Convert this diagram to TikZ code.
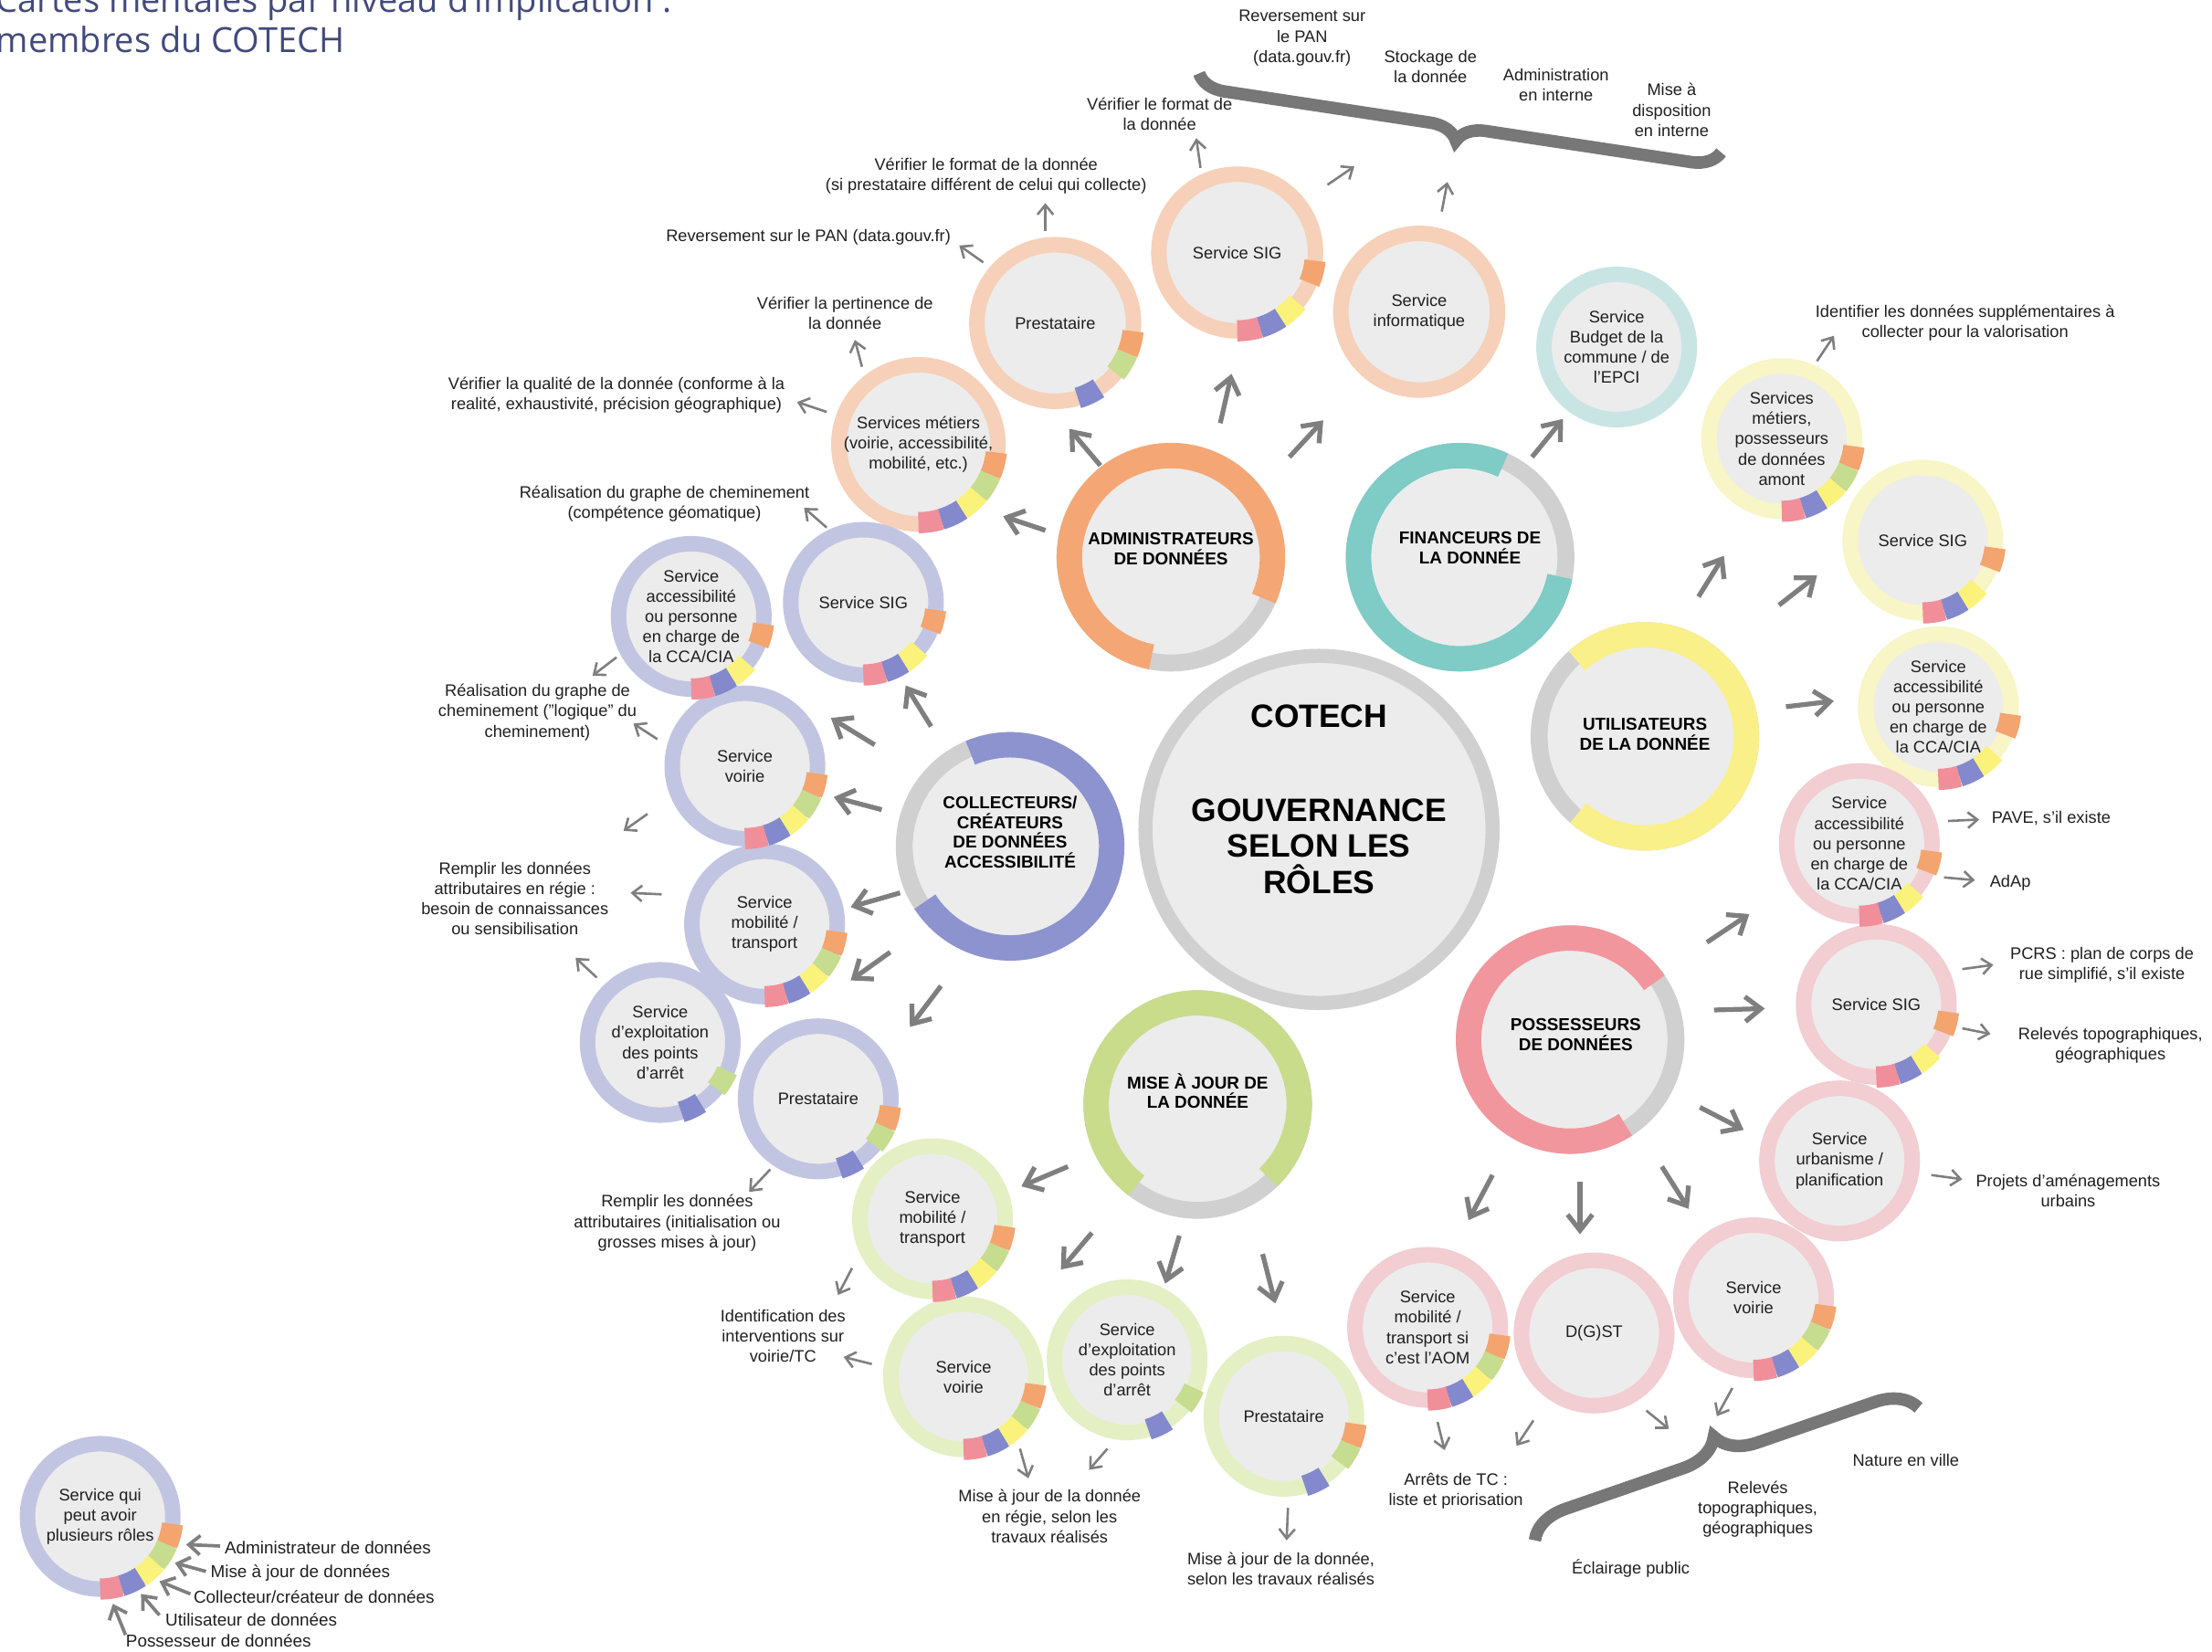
\documentclass[tikz,border=0pt]{standalone}
\usepackage{fontspec}
\setmainfont{Liberation Sans}
\newfontfamily\titlefont{Open Sans}
\usepackage{xcolor}
\usepackage{tikz}
\usetikzlibrary{arrows.meta,decorations.pathreplacing}

\definecolor{innergrey}{HTML}{ECECEC}
\definecolor{ringgrey}{HTML}{D0D0D0}
\definecolor{arrowgrey}{HTML}{7F7F7F}
\definecolor{bracegrey}{HTML}{777777}
\definecolor{titleblue}{HTML}{434A7C}
\definecolor{textdark}{HTML}{1F1F1F}
\definecolor{admorange}{HTML}{F4A774}
\definecolor{finteal}{HTML}{7FCBC6}
\definecolor{colblue}{HTML}{8C93CF}
\definecolor{utiyellow}{HTML}{FAF08A}
\definecolor{pospink}{HTML}{F2969E}
\definecolor{majgreen}{HTML}{C8DC8C}
\definecolor{ringpeach}{HTML}{F6D0B8}
\definecolor{ringteal}{HTML}{C8E5E4}
\definecolor{ringlav}{HTML}{C2C5E2}
\definecolor{ringyellow}{HTML}{F8F5C6}
\definecolor{ringgreen}{HTML}{E4EFC3}
\definecolor{ringpink}{HTML}{F2CDD2}
\definecolor{seg1}{HTML}{F3A46F}
\definecolor{seg2}{HTML}{C6DC8E}
\definecolor{seg3}{HTML}{FBF27B}
\definecolor{seg4}{HTML}{8389CC}
\definecolor{seg5}{HTML}{F08F99}

\begin{document}
\begin{tikzpicture}[
    x=0.025cm, y=0.025cm,
    svc/.style={circle, draw=#1, line width=0.275cm, fill=innergrey, minimum size=2.575cm, inner sep=0pt, align=center, text=textdark, font=\fontsize{8.4}{10.2}\selectfont},
    bigsvc/.style={svc=#1, minimum size=2.775cm},
    rolecircle/.style={circle, draw=ringgrey, line width=0.3cm, fill=innergrey, minimum size=3.75cm, inner sep=0pt},
    roletext/.style={align=center, text=black, font=\bfseries\fontsize{8.7}{10}\selectfont},
    rolearc/.style={draw=#1, line width=0.45cm},
    roleseg/.style={line width=0.375cm},
    note/.style={align=center, inner sep=0pt, text=textdark, font=\fontsize{8.4}{10.2}\selectfont},
    legnote/.style={anchor=west, inner sep=0pt, text=textdark, font=\fontsize{8.7}{10.4}\selectfont},
    titlenote/.style={anchor=base west, inner sep=0pt, text=titleblue, font=\titlefont\fontsize{17.5}{20}\selectfont},
    bigarrow/.style={draw=arrowgrey, line width=0.085cm, -{Straight Barb[length=0.28cm, width=0.44cm]}},
    smallarrow/.style={draw=arrowgrey, line width=0.042cm, -{Straight Barb[length=0.17cm, width=0.28cm]}},
    legarrow/.style={draw=arrowgrey, line width=0.06cm, -{Straight Barb[length=0.2cm, width=0.34cm]}},
    bigbrace/.style={draw=bracegrey, line width=0.22cm, decorate, decoration={brace, amplitude=#1}}
  ]

  \useasboundingbox (0,0) rectangle (1568,-1171);
  \clip (0,0) rectangle (1568,-1171);

  % Title
  \node[titlenote] (title1) at (-3,-9) {Cartes mentales par niveau d’implication :};
  \node[titlenote] (title2) at (-3,-37) {membres du COTECH};

  % Braces
  \coordinate (tbA) at (1220,-108);
  \coordinate (tbB) at (850,-52);
  \coordinate (tbtip) at (1036,-100);
  \draw[bigbrace=0.5cm] (tbA) -- (tbB);
  \coordinate (bbA) at (1088,-1092);
  \coordinate (bbB) at (1360,-998);
  \coordinate (bbtip) at (1217,-1017);
  \draw[bigbrace=0.7cm] (bbA) -- (bbB);

  % Centre
  \node[circle, draw=ringgrey, line width=0.25cm, fill=innergrey, minimum size=6.15cm, inner sep=0pt,
        label={[roletext, font=\bfseries\fontsize{16.3}{18.1}\selectfont, yshift=0.54cm]center:{COTECH\\[29.5pt]GOUVERNANCE\\SELON LES\\RÔLES}}] (cot) at (935,-588) {};

  % Roles
  \node[rolecircle, label={[roletext, yshift=0.15cm]center:{ADMINISTRATEURS\\DE DONNÉES}}] (adm) at (830,-395) {};
  \node[rolecircle, label={[roletext, xshift=0.175cm, yshift=0.16cm]center:{FINANCEURS DE\\LA DONNÉE}}] (fin) at (1035,-395) {};
  \node[rolecircle, label={[roletext, yshift=0.25cm]center:{COLLECTEURS/\\CRÉATEURS\\DE DONNÉES\\ACCESSIBILITÉ}}] (col) at (716,-600) {};
  \node[rolecircle, label={[roletext, yshift=0.04cm]center:{UTILISATEURS\\DE LA DONNÉE}}] (uti) at (1166,-522) {};
  \node[rolecircle, label={[roletext, xshift=0.1cm, yshift=0.09cm]center:{POSSESSEURS\\DE DONNÉES}}] (pos) at (1113,-737) {};
  \node[rolecircle, label={[roletext, yshift=0.24cm]center:{MISE À JOUR DE\\LA DONNÉE}}] (maj) at (849,-783) {};

  \draw[rolearc=admorange] ([shift={(-24:72)}]adm.center) arc[start angle=-24, end angle=259, radius=72];
  \draw[rolearc=finteal] ([shift={(65:72)}]fin.center) arc[start angle=65, end angle=349, radius=72];
  \draw[rolearc=colblue] ([shift={(-147:72)}]col.center) arc[start angle=-147, end angle=113, radius=72];
  \draw[rolearc=utiyellow] ([shift={(-131:72)}]uti.center) arc[start angle=-131, end angle=132, radius=72];
  \draw[rolearc=pospink] ([shift={(34:72)}]pos.center) arc[start angle=34, end angle=303, radius=72];
  \draw[rolearc=majgreen] ([shift={(-46:72)}]maj.center) arc[start angle=-46, end angle=233, radius=72];

  % Administrateurs
  \node[bigsvc=ringpeach] (pre1) at (748,-229) {Prestataire};
  \node[bigsvc=ringpeach] (sig1) at (877,-179) {Service SIG};
  \node[bigsvc=ringpeach] (inf) at (1006,-221) {Service\\informatique};
  \node[bigsvc=ringpeach] (met1) at (651,-315) {Services métiers\\(voirie, accessibilité,\\mobilité, etc.)};
  % Financeurs
  \node[svc=ringteal] (bud) at (1146,-246) {Service\\Budget de la\\commune / de\\l’EPCI};
  % Utilisateurs
  \node[svc=ringyellow] (met2) at (1263,-311) {Services\\métiers,\\possesseurs\\de données\\amont};
  \node[svc=ringyellow] (sig2) at (1363,-383) {Service SIG};
  \node[svc=ringyellow] (acc2) at (1374,-501) {Service\\accessibilité\\ou personne\\en charge de\\la CCA/CIA};
  % Collecteurs
  \node[svc=ringlav] (sig3) at (612,-427) {Service SIG};
  \node[svc=ringlav] (acc3) at (490,-437) {Service\\accessibilité\\ou personne\\en charge de\\la CCA/CIA};
  \node[svc=ringlav] (voi3) at (528,-543) {Service\\voirie};
  \node[svc=ringlav] (mob3) at (542,-655) {Service\\mobilité /\\transport};
  \node[svc=ringlav] (exp3) at (468,-739) {Service\\d’exploitation\\des points\\d’arrêt};
  \node[svc=ringlav] (pre3) at (580,-779) {Prestataire};
  % Mise a jour
  \node[svc=ringgreen] (mob4) at (661,-864) {Service\\mobilité /\\transport};
  \node[svc=ringgreen] (voi4) at (683,-976) {Service\\voirie};
  \node[svc=ringgreen] (exp4) at (799,-964) {Service\\d’exploitation\\des points\\d’arrêt};
  \node[svc=ringgreen] (pre4) at (910,-1004) {Prestataire};
  % Possesseurs
  \node[svc=ringpink] (acc5) at (1318,-598) {Service\\accessibilité\\ou personne\\en charge de\\la CCA/CIA};
  \node[svc=ringpink] (sig5) at (1330,-712) {Service SIG};
  \node[svc=ringpink] (urb) at (1304,-823) {Service\\urbanisme /\\planification};
  \node[svc=ringpink] (voi5) at (1243,-920) {Service\\voirie};
  \node[svc=ringpink] (dgst) at (1130,-945) {D(G)ST};
  \node[svc=ringpink] (mob5) at (1012,-941) {Service\\mobilité /\\transport si\\c’est l’AOM};
  % Legende
  \node[svc=ringlav] (leg) at (71,-1075) {Service qui\\peut avoir\\plusieurs rôles};

  % Role segments
  \foreach \nd/\rad/\roles in {pre1/55.5/{1,2,4}, sig1/55.5/{1,3,4,5}, met1/55.5/{1,2,3,4,5},
      met2/51.5/{1,2,3,4,5}, sig2/51.5/{1,3,4,5}, acc2/51.5/{1,3,4,5},
      sig3/51.5/{1,3,4,5}, acc3/51.5/{1,3,4,5}, voi3/51.5/{1,2,3,4,5}, mob3/51.5/{1,2,3,4,5},
      exp3/51.5/{2,4}, pre3/51.5/{1,2,4},
      mob4/51.5/{1,2,3,4,5}, voi4/51.5/{1,2,3,4,5}, exp4/51.5/{2,4}, pre4/51.5/{1,2,4},
      acc5/51.5/{1,3,4,5}, sig5/51.5/{1,3,4,5}, voi5/51.5/{1,2,3,4,5}, mob5/51.5/{1,2,3,4,5},
      leg/51.5/{1,2,3,4,5}}
    \foreach \k in \roles
      \draw[roleseg, draw=seg\k] ([shift={({-6-(\k-1)*16.8}:\rad)}]\nd.center)
        arc[start angle={-6-(\k-1)*16.8}, delta angle=-16.8, radius=\rad];

  % Labels
  \node[note] (lrev) at (923,-27) {Reversement sur\\le PAN\\(data.gouv.fr)};
  \node[note] (lsto) at (1014,-47) {Stockage de\\la donnée};
  \node[note] (ladmi) at (1103,-60) {Administration\\en interne};
  \node[note] (lmise) at (1185,-78) {Mise à\\disposition\\en interne};
  \node[note] (lfmt1) at (822,-81) {Vérifier le format de\\la donnée};
  \node[note] (lfmt2) at (699,-125) {Vérifier le format de la donnée\\(si prestataire différent de celui qui collecte)};
  \node[note] (lpan) at (573,-168) {Reversement sur le PAN (data.gouv.fr)};
  \node[note] (lpert) at (599,-222) {Vérifier la pertinence de\\la donnée};
  \node[note] (lqual) at (437,-280) {Vérifier la qualité de la donnée (conforme à la\\realité, exhaustivité, précision géographique)};
  \node[note] (lgeo) at (471,-357) {Réalisation du graphe de cheminement\\(compétence géomatique)};
  \node[note] (llog) at (381,-505) {Réalisation du graphe de\\cheminement (”logique” du\\cheminement)};
  \node[note] (lregie) at (365,-637) {Remplir les données\\attributaires en régie :\\besoin de connaissances\\ou sensibilisation};
  \node[note] (linit) at (480,-867) {Remplir les données\\attributaires (initialisation ou\\grosses mises à jour)};
  \node[note] (lident) at (555,-947) {Identification des\\interventions sur\\voirie/TC};
  \node[note] (lmaj1) at (744,-1075) {Mise à jour de la donnée\\en régie, selon les\\travaux réalisés};
  \node[note] (lmaj2) at (908,-1112) {Mise à jour de la donnée,\\selon les travaux réalisés};
  \node[note] (larr) at (1032,-1057) {Arrêts de TC :\\liste et priorisation};
  \node[note] (lecl) at (1156,-1112) {Éclairage public};
  \node[note] (lrel) at (1246,-1070) {Relevés\\topographiques,\\géographiques};
  \node[note] (lnat) at (1351,-1035) {Nature en ville};
  \node[note] (lproj) at (1466,-844) {Projets d’aménagements\\urbains};
  \node[note] (ltopo) at (1496,-741) {Relevés topographiques,\\géographiques};
  \node[note] (lpcrs) at (1490,-684) {PCRS : plan de corps de\\rue simplifié, s’il existe};
  \node[note] (ladap) at (1425,-626) {AdAp};
  \node[note] (lpave) at (1454,-580) {PAVE, s’il existe};
  \node[note] (lident2) at (1393,-229) {Identifier les données supplémentaires à\\collecter pour la valorisation};

  \node[legnote] (lgadm) at (159,-1097) {Administrateur de données};
  \node[legnote] (lgmaj) at (149,-1115) {Mise à jour de données};
  \node[legnote] (lgcol) at (137,-1132) {Collecteur/créateur de données};
  \node[legnote] (lguti) at (117,-1148) {Utilisateur de données};
  \node[legnote] (lgpos) at (89,-1163) {Possesseur de données};

  % Arrows from the roles
  \draw[bigarrow] ([shift={(-89,19)}]adm.center) -- ([shift={(60,-51)}]met1.center);
  \draw[bigarrow] ([shift={(-50,65)}]adm.center) -- ([shift={(10,-75)}]pre1.center);
  \draw[bigarrow] ([shift={(35,95)}]adm.center) -- ([shift={(-4,-86)}]sig1.center);
  \draw[bigarrow] ([shift={(84,71)}]adm.center) -- ([shift={(-68,-77)}]inf.center);
  \draw[bigarrow] ([shift={(51,71)}]fin.center) -- ([shift={(-38,-51)}]bud.center);
  \draw[bigarrow] ([shift={(38,99)}]uti.center) -- ([shift={(-41,-83)}]met2.center);
  \draw[bigarrow] ([shift={(95,93)}]uti.center) -- ([shift={(-75,-25)}]sig2.center);
  \draw[bigarrow] ([shift={(100,21)}]uti.center) -- ([shift={(-74,4)}]acc2.center);
  \draw[bigarrow] ([shift={(-56,85)}]col.center) -- ([shift={(30,-59)}]sig3.center);
  \draw[bigarrow] ([shift={(-96,72)}]col.center) -- ([shift={(99,-72)}]acc3.center);
  \draw[bigarrow] ([shift={(-91,26)}]col.center) -- ([shift={(63,-22)}]voi3.center);
  \draw[bigarrow] ([shift={(-78,-33)}]col.center) -- ([shift={(61,12)}]mob3.center);
  \draw[bigarrow] ([shift={(-85,-75)}]col.center) -- ([shift={(135,44)}]exp3.center);
  \draw[bigarrow] ([shift={(-49,-99)}]col.center) -- ([shift={(65,51)}]pre3.center);
  \draw[bigarrow] ([shift={(-92,-44)}]maj.center) -- ([shift={(63,23)}]mob4.center);
  \draw[bigarrow] ([shift={(-75,-91)}]maj.center) -- ([shift={(69,76)}]voi4.center);
  \draw[bigarrow] ([shift={(-13,-93)}]maj.center) -- ([shift={(27,54)}]exp4.center);
  \draw[bigarrow] ([shift={(46,-106)}]maj.center) -- ([shift={(-6,80)}]pre4.center);
  \draw[bigarrow] ([shift={(97,69)}]pos.center) -- ([shift={(-78,-50)}]acc5.center);
  \draw[bigarrow] ([shift={(102,21)}]pos.center) -- ([shift={(-79,-3)}]sig5.center);
  \draw[bigarrow] ([shift={(92,-48)}]pos.center) -- ([shift={(-68,22)}]urb.center);
  \draw[bigarrow] ([shift={(-55,-96)}]pos.center) -- ([shift={(29,76)}]mob5.center);
  \draw[bigarrow] ([shift={(7,-101)}]pos.center) -- ([shift={(-10,70)}]dgst.center);
  \draw[bigarrow] ([shift={(65,-90)}]pos.center) -- ([shift={(-46,63)}]voi5.center);

  % Arrows from the services
  \draw[smallarrow] ([shift={(-26,60)}]sig1.center) -- ([shift={(26,-17)}]lfmt1.center);
  \draw[smallarrow] ([shift={(64,48)}]sig1.center) -- ([shift={(-76,-18)}]tbtip);
  \draw[smallarrow] ([shift={(16,71)}]inf.center) -- ([shift={(-10,-29)}]tbtip);
  \draw[smallarrow] ([shift={(-7,65)}]pre1.center) -- ([shift={(42,-19)}]lfmt2.center);
  \draw[smallarrow] ([shift={(-51,43)}]pre1.center) -- ([shift={(107,-6)}]lpan.center);
  \draw[smallarrow] ([shift={(-40,55)}]met1.center) -- ([shift={(7,-19)}]lpert.center);
  \draw[smallarrow] ([shift={(-65,23)}]met1.center) -- ([shift={(128,-5)}]lqual.center);
  \draw[smallarrow] ([shift={(-26,53)}]sig3.center) -- ([shift={(99,-3)}]lgeo.center);
  \draw[smallarrow] ([shift={(-53,-29)}]acc3.center) -- ([shift={(39,26)}]llog.center);
  \draw[smallarrow] ([shift={(-62,19)}]voi3.center) -- ([shift={(68,-8)}]llog.center);
  \draw[smallarrow] ([shift={(-69,-34)}]voi3.center) -- ([shift={(77,48)}]lregie.center);
  \draw[smallarrow] ([shift={(-73,21)}]mob3.center) -- ([shift={(82,4)}]lregie.center);
  \draw[smallarrow] ([shift={(-45,46)}]exp3.center) -- ([shift={(43,-42)}]lregie.center);
  \draw[smallarrow] ([shift={(-34,-50)}]pre3.center) -- ([shift={(51,22)}]linit.center);
  \draw[smallarrow] ([shift={(-57,-35)}]mob4.center) -- ([shift={(39,29)}]lident.center);
  \draw[smallarrow] ([shift={(-65,9)}]voi4.center) -- ([shift={(43,-15)}]lident.center);
  \draw[smallarrow] ([shift={(40,-51)}]voi4.center) -- ([shift={(-15,27)}]lmaj1.center);
  \draw[smallarrow] ([shift={(-14,-63)}]exp4.center) -- ([shift={(28,33)}]lmaj1.center);
  \draw[smallarrow] ([shift={(3,-65)}]pre4.center) -- ([shift={(4,20)}]lmaj2.center);
  \draw[smallarrow] ([shift={(7,-67)}]mob5.center) -- ([shift={(-8,29)}]larr.center);
  \draw[smallarrow] ([shift={(-43,-62)}]dgst.center) -- ([shift={(43,32)}]larr.center);
  \draw[smallarrow] ([shift={(37,-55)}]dgst.center) -- ([shift={(-34,4)}]bbtip);
  \draw[smallarrow] ([shift={(-15,-64)}]voi5.center) -- ([shift={(0,13)}]bbtip);
  \draw[smallarrow] ([shift={(65,-10)}]urb.center) -- ([shift={(-75,8)}]lproj.center);
  \draw[smallarrow] ([shift={(61,-17)}]sig5.center) -- ([shift={(-85,8)}]ltopo.center);
  \draw[smallarrow] ([shift={(61,25)}]sig5.center) -- ([shift={(-77,0)}]lpcrs.center);
  \draw[smallarrow] ([shift={(60,-24)}]acc5.center) -- ([shift={(-25,2)}]ladap.center);
  \draw[smallarrow] ([shift={(63,16)}]acc5.center) -- ([shift={(-51,-1)}]lpave.center);
  \draw[smallarrow] ([shift={(25,55)}]met2.center) -- ([shift={(-93,-9)}]lident2.center);

  % Legend arrows
  \draw[legarrow] ([shift={(-3,1)}]lgadm.west) -- ([shift={(61,-20)}]leg.center);
  \draw[legarrow] ([shift={(-3,1)}]lgmaj.west) -- ([shift={(53,-33)}]leg.center);
  \draw[legarrow] ([shift={(-2,2)}]lgcol.west) -- ([shift={(42,-46)}]leg.center);
  \draw[legarrow] ([shift={(-4,3)}]lguti.west) -- ([shift={(29,-55)}]leg.center);
  \draw[legarrow] ([shift={(0,4)}]lgpos.west) -- ([shift={(9,-62)}]leg.center);

\end{tikzpicture}
\end{document}
